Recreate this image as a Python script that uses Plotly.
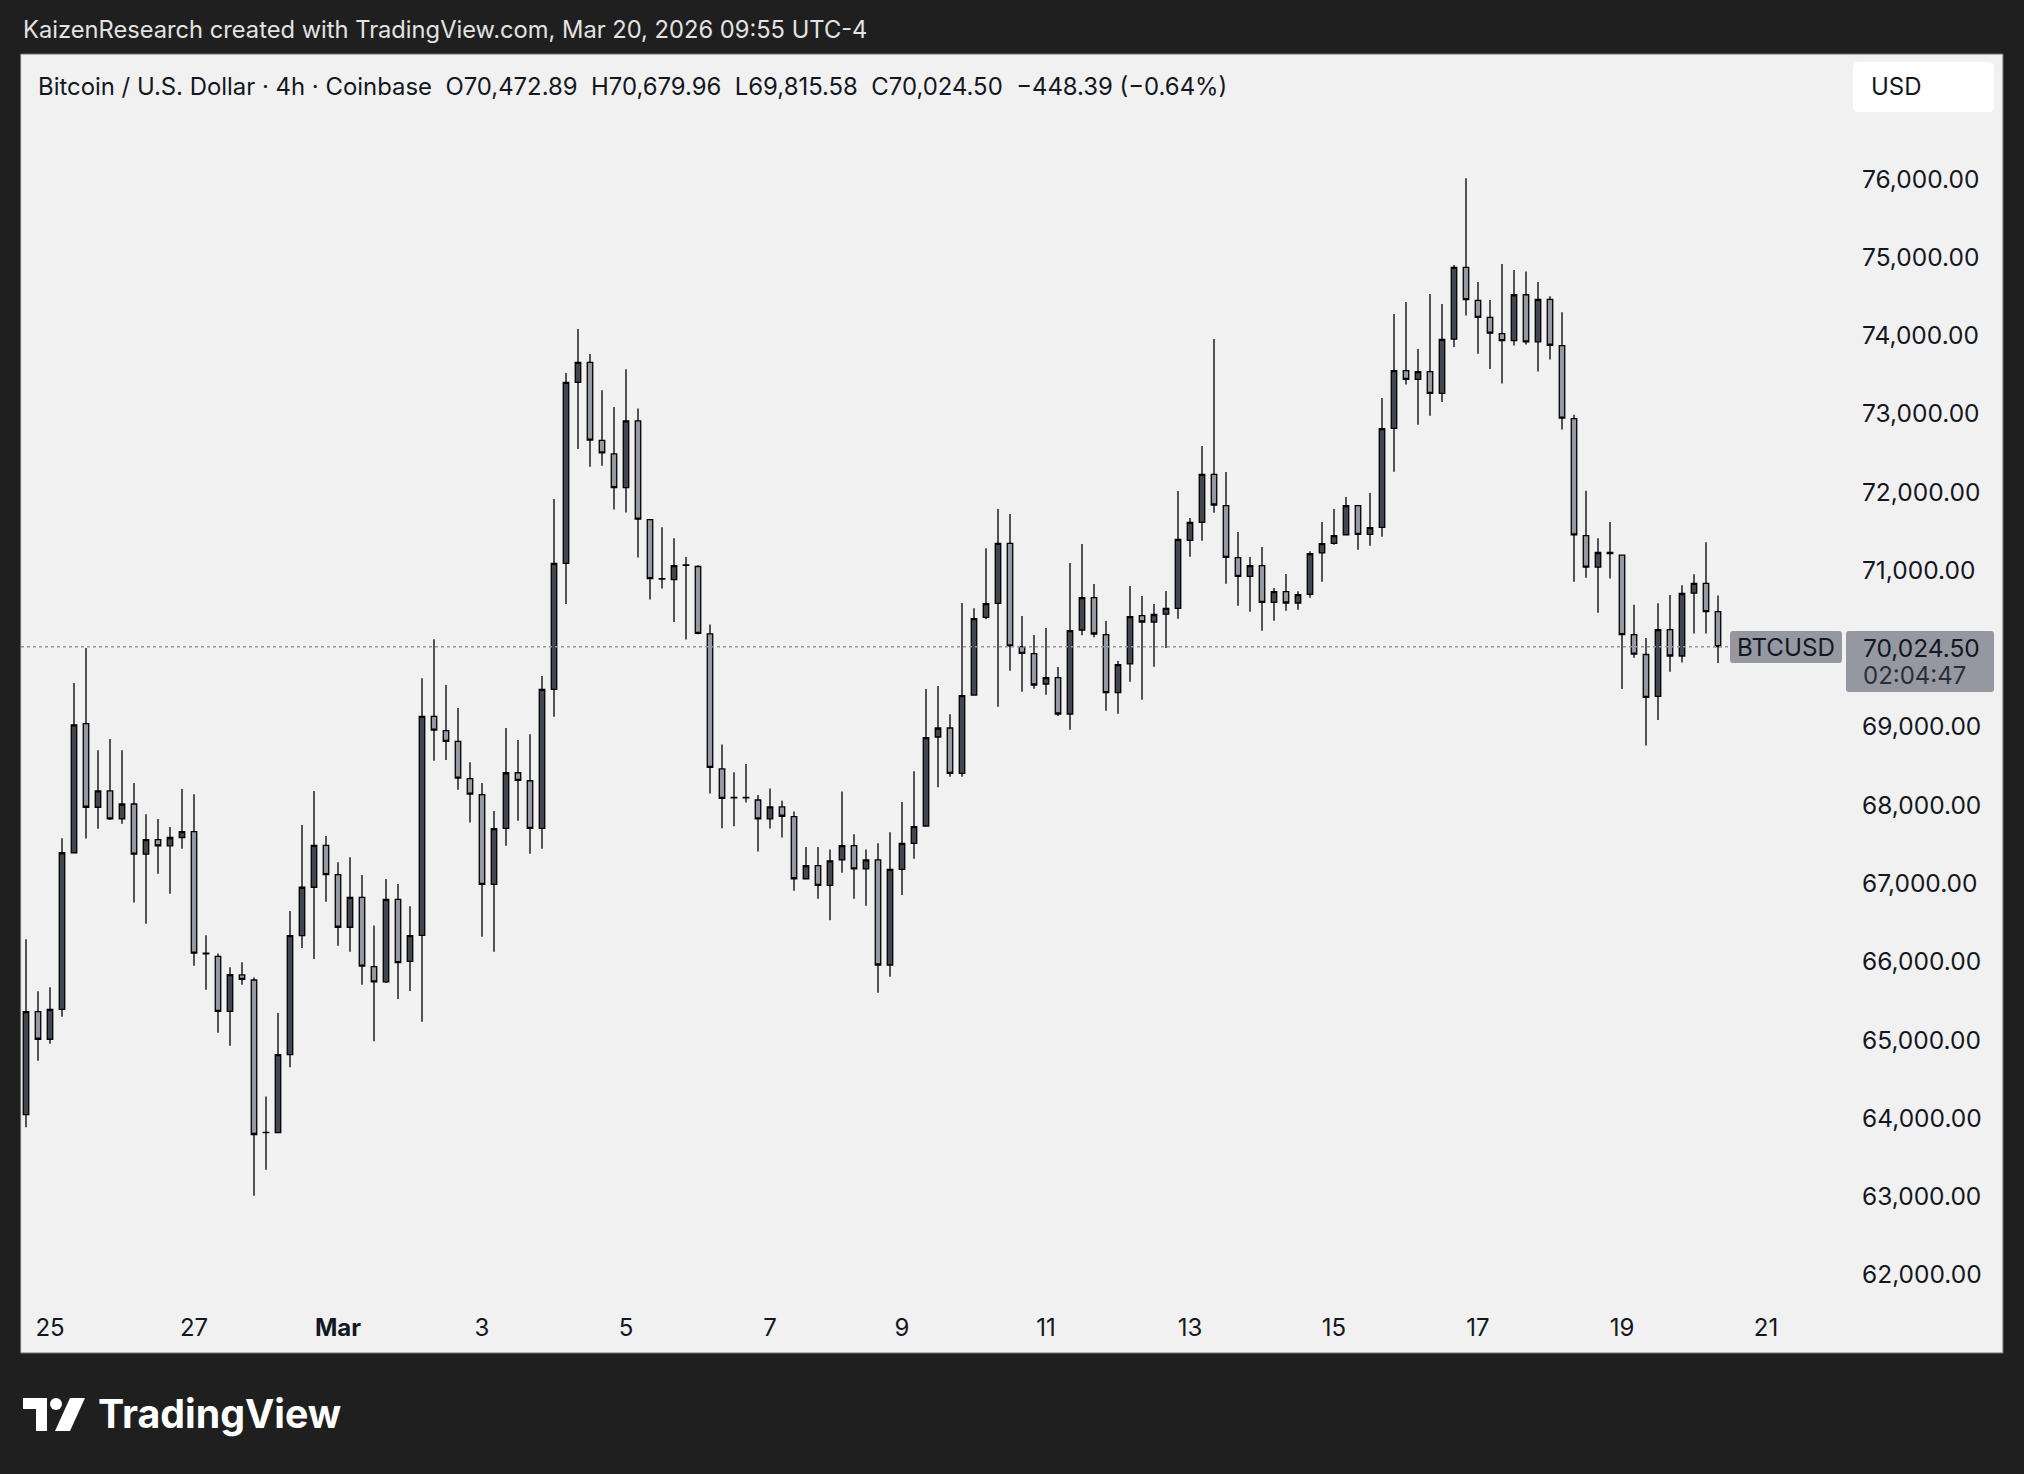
import plotly.graph_objects as go

# ---------------- data (BTC/USD, 4h bars, Coinbase) ----------------
opens = [64047, 65362, 65009, 65390, 67392, 69041, 67973, 68182, 67824, 68015,
         67374, 67559, 67480, 67587, 67662, 66110, 66068, 65366, 65831, 65766,
         63820, 63815, 64814, 66333, 66951, 67485, 67113, 66440, 66821, 65938,
         65743, 66797, 66003, 66337, 69134, 68953, 68814, 68340, 68135, 66988,
         67703, 68414, 68312, 67703, 69480, 71089, 73402, 73658, 72660, 72488,
         72056, 72911, 71649, 70893, 70882, 71070, 71049, 70189, 68463, 68098,
         68098, 68066, 67826, 67978, 67853, 67060, 67227, 66976, 67300, 67482,
         67185, 67300, 65958, 67180, 67512, 67734, 68871, 68986, 68407, 69407,
         70400, 70579, 71345, 70025, 69936, 69548, 69629, 69165, 70238, 70651,
         70178, 69437, 69804, 70421, 70340, 70440, 70515, 71384, 71614, 72227,
         71827, 71162, 70924, 71060, 70591, 70728, 70583, 70694, 71222, 71345,
         71452, 71827, 71460, 71550, 72815, 73551, 73441, 73539, 73262, 73953,
         74872, 74449, 74232, 74025, 73934, 74521, 73920, 74463, 73872, 72939,
         71444, 71040, 71228, 71194, 70180, 69925, 69391, 70242, 69906, 70709,
         70834, 70472.89]
highs = [66286, 65622, 65673, 67578, 69562, 70008, 68702, 68846, 68702, 68284,
         67885, 67824, 67722, 68205, 68140, 66337, 66105, 65929, 65994, 65799,
         64279, 65343, 66649, 67745, 68182, 67606, 67271, 67336, 67109, 66463,
         67058, 66993, 66709, 69622, 70120, 69534, 69241, 68549, 68284, 67926,
         68986, 68832, 68907, 69650, 71911, 73521, 74083, 73764, 73302, 73088,
         73568, 73067, 71655, 71550, 71409, 71169, 71065, 70309, 68775, 68421,
         68525, 68129, 68212, 68056, 67920, 67467, 67467, 67435, 68176, 67628,
         67435, 67512, 67653, 68040, 68432, 69484, 69522, 69160, 70583, 70515,
         71281, 71784, 71720, 70417, 70174, 70264, 69765, 71094, 71337, 70826,
         70353, 69842, 70800, 70672, 70570, 70736, 72014, 71669, 72589, 73956,
         72257, 71490, 71171, 71298, 70775, 70953, 70732, 71243, 71618, 71784,
         71937, 71830, 71988, 73202, 74275, 74429, 73828, 74531, 74403, 74901,
         76011, 74684, 74453, 74915, 74838, 74819, 74684, 74501, 74299, 72987,
         72016, 71410, 71617, 71200, 70559, 70137, 70579, 70685, 70810, 70949,
         71358, 70679.96]
lows = [63884, 64735, 64953, 65297, 67390, 67573, 67699, 67810, 67764, 66756,
        66486, 67123, 66867, 67443, 65947, 65641, 65092, 64925, 65706, 63011,
        63341, 63810, 64651, 66175, 66035, 66765, 66203, 66128, 65706, 64985,
        65729, 65524, 65627, 65232, 68568, 68577, 68196, 67778, 66319, 66128,
        67480, 67801, 67378, 67443, 69130, 70570, 72550, 72325, 72337, 71779,
        71738, 71164, 70627, 70767, 70340, 70116, 70183, 68150, 67706, 67732,
        68035, 67409, 67701, 67586, 66908, 67055, 66804, 66528, 67138, 66804,
        66716, 65604, 65809, 66852, 67316, 67730, 68228, 68364, 68364, 69400,
        70374, 69258, 69718, 69450, 69488, 69412, 69139, 68965, 70170, 70144,
        69207, 69169, 69578, 69348, 69769, 70008, 70383, 71175, 71379, 71737,
        70830, 70549, 70472, 70229, 70357, 70485, 70498, 70651, 70855, 71328,
        71450, 71264, 71315, 71430, 72261, 73373, 72861, 72976, 73151, 73852,
        74256, 73766, 73574, 73386, 73872, 73886, 73540, 73694, 72800, 70853,
        70906, 70459, 70896, 69483, 69882, 68762, 69089, 69704, 69824, 70194,
        70194, 69815.58]
closes = [65362, 65009, 65390, 67392, 69027, 67973, 68182, 67824, 68015, 67374,
          67559, 67480, 67587, 67662, 66110, 66100, 65366, 65836, 65775, 63792,
          63815, 64814, 66333, 66951, 67485, 67113, 66440, 66821, 65943, 65743,
          66797, 65989, 66333, 69134, 68958, 68814, 68345, 68140, 66988, 67699,
          68414, 68317, 67703, 69480, 71089, 73402, 73658, 72665, 72500, 72056,
          72911, 71654, 70893, 70888, 71060, 71065, 70194, 68483, 68087, 68093,
          68093, 67826, 67978, 67858, 67060, 67227, 66976, 67289, 67482, 67185,
          67300, 65958, 67180, 67512, 67725, 68862, 68986, 68407, 69399, 70383,
          70574, 71345, 70034, 69940, 69535, 69629, 69165, 70229, 70651, 70187,
          69437, 69795, 70408, 70340, 70436, 70513, 71396, 71614, 72227, 71835,
          71166, 70924, 71060, 70591, 70728, 70583, 70689, 71213, 71341, 71443,
          71827, 71460, 71545, 72810, 73551, 73441, 73539, 73262, 73952, 74872,
          74458, 74232, 74030, 73934, 74521, 73920, 74463, 73876, 72944, 71454,
          71040, 71228, 71213, 70180, 69930, 69377, 70242, 69906, 70704, 70834,
          70472.89, 70024.50]
bars = list(range(len(opens)))

date_tick_bars = [2, 14, 26, 38, 50, 62, 73, 85, 97, 109, 121, 133, 145]
date_tick_labels = ["25", "27", "<b>Mar</b>", "3", "5", "7", "9", "11", "13",
                    "15", "17", "19", "21"]
price_ticks = list(range(62000, 77000, 1000))

symbol = "BTCUSD"
countdown = "02:04:47"
caption = "KaizenResearch created with TradingView.com, Mar 20, 2026 09:55 UTC-4"
title_name = "Bitcoin / U.S. Dollar · 4h · Coinbase"

# ---------------- layout geometry (pixels) ----------------
W, H = 2024, 1474
PL, PR, PT, PB = 21, 1846, 54, 1306          # plot area
Y76, PX_PER_K = 179.0, 78.27                 # 76,000 tick row, px per 1,000 USD
BAR_X0, BAR_DX = 26.0, 12.0                  # x of first bar, px per bar


def price_at(py):
    return 76000 - (py - Y76) / PX_PER_K * 1000


def bar_at(px):
    return (px - BAR_X0) / BAR_DX


def fx(px):
    return (px - PL) / (PR - PL)


def fy(py):
    return (PB - py) / (PB - PT)


def rrect(x0, y0, x1, y1, r):
    rx, ry = r / (PR - PL), r / (PB - PT)
    a0, a1, b0, b1 = fx(x0), fx(x1), fy(y1), fy(y0)
    return (f"M{a0+rx},{b0} L{a1-rx},{b0} Q{a1},{b0} {a1},{b0+ry} "
            f"L{a1},{b1-ry} Q{a1},{b1} {a1-rx},{b1} L{a0+rx},{b1} "
            f"Q{a0},{b1} {a0},{b1-ry} L{a0},{b0+ry} Q{a0},{b0} {a0+rx},{b0} Z")


def poly(pts):
    return "M" + " L".join(f"{fx(x)},{fy(y)}" for x, y in pts) + " Z"


FONT = "Inter, 'Noto Sans', sans-serif"
TXT = "#131722"
PANEL = "#f1f1f1"
OUTER = "#1f1f1f"
GRAY = "#9598a1"

fig = go.Figure()
fig.add_trace(go.Candlestick(
    x=bars, open=opens, high=highs, low=lows, close=closes,
    increasing=dict(line=dict(color="#000000", width=1.3), fillcolor="#43464f"),
    decreasing=dict(line=dict(color="#000000", width=1.3), fillcolor=GRAY),
    whiskerwidth=0, hoverinfo="skip", showlegend=False,
))

last_close = closes[-1]
prev_close = closes[-2]
chg = last_close - prev_close
pct = chg / prev_close * 100
sp = "\u00a0\u00a0"
header = (f"{title_name}{sp}O{opens[-1]:,.2f}{sp}H{highs[-1]:,.2f}{sp}"
          f"L{lows[-1]:,.2f}{sp}C{last_close:,.2f}{sp}"
          f"{chg:+,.2f} ({pct:+.2f}%)").replace("-", "\u2212")

shapes = [
    dict(type="rect", xref="paper", yref="paper", x0=fx(20.6), x1=fx(2003),
         y0=fy(1353), y1=fy(54), fillcolor=PANEL,
         line=dict(color="#6f6f6f", width=1), layer="below"),
    dict(type="path", xref="paper", yref="paper", path=rrect(1853, 62, 1994, 112, 6),
         fillcolor="#ffffff", line=dict(width=0), layer="below"),
    dict(type="line", xref="paper", yref="y", x0=0, x1=fx(1730),
         y0=last_close, y1=last_close, line=dict(color=GRAY, width=1.5, dash="dot")),
    dict(type="path", xref="paper", yref="paper", path=rrect(1730, 631, 1842, 663, 3),
         fillcolor=GRAY, line=dict(width=0)),
    dict(type="path", xref="paper", yref="paper", path=rrect(1846, 631, 1994, 692, 3),
         fillcolor=GRAY, line=dict(width=0)),
    # TradingView logo mark
    dict(type="path", xref="paper", yref="paper",
         path=poly([(23, 1398), (47, 1398), (47, 1431), (36, 1431), (36, 1409), (23, 1409)]),
         fillcolor="#ffffff", line=dict(width=0)),
    dict(type="circle", xref="paper", yref="paper", x0=fx(50), x1=fx(62),
         y0=fy(1410), y1=fy(1398), fillcolor="#ffffff", line=dict(width=0)),
    dict(type="path", xref="paper", yref="paper",
         path=poly([(70, 1398), (85, 1398), (70, 1431), (55, 1431)]),
         fillcolor="#ffffff", line=dict(width=0)),
]

annotations = [
    dict(text=caption, x=fx(20.6), y=fy(30), xanchor="left", yanchor="middle",
         font=dict(size=23.7, color="#e3e3e3", family=FONT)),
    dict(text=header, x=fx(36), y=fy(86.5), xanchor="left", yanchor="middle",
         font=dict(size=23.9, color=TXT, family=FONT)),
    dict(text="USD", x=fx(1869), y=fy(87), xanchor="left", yanchor="middle",
         font=dict(size=24, color=TXT, family=FONT)),
    dict(text=symbol, x=fx(1786), y=fy(647.5), xanchor="center", yanchor="middle",
         font=dict(size=24.2, color=TXT, family=FONT)),
    dict(text=f"{last_close:,.2f}", x=fx(1861), y=fy(648), xanchor="left",
         yanchor="middle", font=dict(size=24.5, color=TXT, family=FONT)),
    dict(text=countdown, x=fx(1861), y=fy(675), xanchor="left", yanchor="middle",
         font=dict(size=24, color="#2a2e39", family=FONT)),
    dict(text="<b>TradingView</b>", x=fx(96), y=fy(1414), xanchor="left",
         yanchor="middle", font=dict(size=39.3, color="#ffffff", family=FONT)),
]
for a in annotations:
    a.update(xref="paper", yref="paper", showarrow=False)

fig.update_layout(
    width=W, height=H,
    margin=dict(l=PL, r=W - PR, t=PT, b=H - PB, pad=0),
    paper_bgcolor=OUTER, plot_bgcolor=PANEL,
    boxgap=0.35,
    showlegend=False,
    shapes=shapes, annotations=annotations,
    font=dict(family=FONT, color=TXT),
    xaxis=dict(range=[bar_at(PL), bar_at(PR)], tickmode="array",
               tickvals=date_tick_bars, ticktext=date_tick_labels,
               showgrid=False, zeroline=False, showline=False, ticks="",
               ticklabelstandoff=5, tickfont=dict(size=24, color=TXT, family=FONT),
               rangeslider=dict(visible=False), fixedrange=True),
    yaxis=dict(range=[price_at(PB), price_at(PT)], side="right", tickmode="array",
               tickvals=price_ticks, ticktext=[f"{v:,.2f}" for v in price_ticks],
               showgrid=False, zeroline=False, showline=False, ticks="",
               ticklabelstandoff=15, tickfont=dict(size=24.5, color=TXT, family=FONT),
               fixedrange=True),
)

fig.write_html("out.html", config={"displayModeBar": False},
               post_script="document.body.style.margin='0';document.body.style.overflow='hidden';")
